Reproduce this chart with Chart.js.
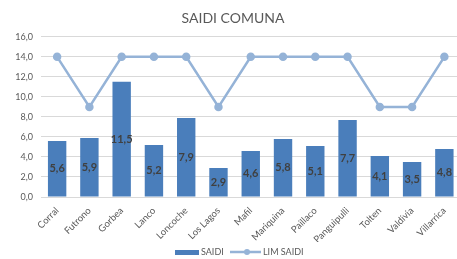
<!DOCTYPE html>
<html>
<head>
<meta charset="utf-8">
<script src="https://cdn.jsdelivr.net/npm/chart.js@4"></script>
<style>
  html, body { margin: 0; padding: 0; background: #fff; overflow: hidden; }
  #wrap { width: 466px; height: 259px; }
</style>
</head>
<body>
<div id="wrap"><canvas id="saidiChart"></canvas></div>
<script>
// datos
const comunas = ['Corral', 'Futrono', 'Gorbea', 'Lanco', 'Loncoche', 'Los Lagos', 'Mafil', 'Mariquina', 'Paillaco', 'Panguipulli', 'Tolten', 'Valdivia', 'Villarrica'];
const saidi = [5.6, 5.9, 11.5, 5.2, 7.9, 2.9, 4.6, 5.8, 5.1, 7.7, 4.1, 3.5, 4.8];
const limSaidi = [14, 9, 14, 14, 14, 9, 14, 14, 14, 14, 9, 9, 14];
const yTicks = [0, 2, 4, 6, 8, 10, 12, 14, 16];

const fmt = v => v.toFixed(1).replace('.', ',');
const FONT = 'Lato, "Open Sans", sans-serif';

// etiquetas dentro de las barras
const barLabels = {
    id: 'barLabels',
    afterDatasetsDraw(chart) {
        const ctx = chart.ctx;
        const meta = chart.getDatasetMeta(1);
        ctx.save();
        ctx.font = 'bold 11px ' + FONT;
        ctx.fillStyle = '#404040';
        ctx.textAlign = 'center';
        ctx.textBaseline = 'middle';
        meta.data.forEach((bar, i) => {
            ctx.fillText(fmt(saidi[i]), bar.x, (bar.y + bar.base) / 2);
        });
        ctx.restore();
    }
};

// leyenda abajo
const bottomLegend = {
    id: 'bottomLegend',
    afterDraw(chart) {
        const ctx = chart.ctx;
        const y = 252;
        ctx.save();
        ctx.font = '9px ' + FONT;
        ctx.textBaseline = 'middle';
        ctx.fillStyle = '#4A7EBB';
        ctx.fillRect(175, y - 2, 24, 5);
        ctx.fillStyle = '#595959';
        ctx.fillText('SAIDI', 201, y);
        ctx.strokeStyle = '#95B3D7';
        ctx.lineWidth = 2.5;
        ctx.beginPath();
        ctx.moveTo(230, y);
        ctx.lineTo(261, y);
        ctx.stroke();
        ctx.fillStyle = '#95B3D7';
        ctx.beginPath();
        ctx.arc(247, y, 3, 0, Math.PI * 2);
        ctx.fill();
        ctx.fillStyle = '#595959';
        ctx.fillText('LIM SAIDI', 263, y);
        ctx.restore();
    }
};

const ctx = document.getElementById('saidiChart').getContext('2d');
new Chart(ctx, {
    data: {
        labels: comunas,
        datasets: [
            {
                type: 'line', label: 'LIM SAIDI', data: limSaidi,
                borderColor: '#95B3D7', backgroundColor: '#95B3D7',
                borderWidth: 2.5, pointRadius: 3, pointHoverRadius: 3, order: 0
            },
            {
                type: 'bar', label: 'SAIDI', data: saidi,
                backgroundColor: '#4A7EBB', categoryPercentage: 1, barPercentage: 0.57, order: 1
            }
        ]
    },
    options: {
        responsive: true,
        maintainAspectRatio: false,
        animation: false,
        layout: { padding: { left: 0, right: 0, bottom: 17, top: 0 } },
        plugins: {
            legend: { display: false },
            tooltip: { enabled: false },
            title: {
                display: true, text: 'SAIDI COMUNA', color: '#595959',
                font: { family: FONT, size: 14, weight: 'normal' }, padding: { top: 10, bottom: 10 }
            }
        },
        scales: {
            x: {
                grid: { display: false },
                border: { color: '#d9d9d9' },
                ticks: { color: '#595959', font: { family: FONT, size: 9.5 }, minRotation: 45, maxRotation: 45, padding: 0 },
                afterFit(scale) { scale.height = 45; }
            },
            y: {
                min: 0, max: 16,
                afterBuildTicks(scale) { scale.ticks = yTicks.map(v => ({ value: v })); },
                grid: { color: '#d9d9d9', drawTicks: false },
                border: { display: false },
                ticks: { color: '#595959', font: { family: FONT, size: 9 }, padding: 8, callback: v => fmt(v) },
                afterFit(scale) { scale.width = 41; }
            }
        }
    },
    plugins: [barLabels, bottomLegend]
});
</script>
</body>
</html>
